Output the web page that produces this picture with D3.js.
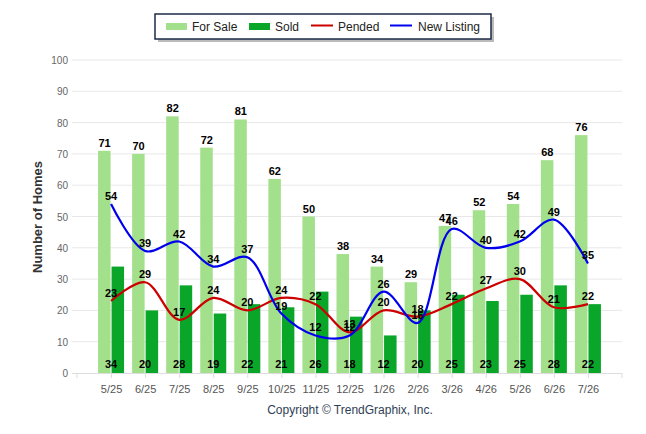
<!DOCTYPE html>
<html>
<head>
  <meta charset="utf-8">
  <script src="https://d3js.org/d3.v7.min.js"></script>
  <style type="text/css">
    body { margin: 0; background: #fff; }
    text { font-family: "Liberation Sans", Arial, sans-serif; }
    .tick-label { font-size: 11px; fill: #555; }
    .y-label { font-size: 10px; fill: #666; }
    .value { font-size: 11px; font-weight: bold; fill: #000; }
    .legend-text { font-size: 12px; fill: #222; }
  </style>
</head>
<body>
  <script type="text/javascript">
    // Chart data
    var months = ['5/25','6/25','7/25','8/25','9/25','10/25','11/25','12/25','1/26','2/26','3/26','4/26','5/26','6/26','7/26'];
    var forSale = [71,70,82,72,81,62,50,38,34,29,47,52,54,68,76];
    var sold = [34,20,28,19,22,21,26,18,12,20,25,23,25,28,22];
    var pended = [23,29,17,24,20,24,22,13,20,18,22,27,30,21,22];
    var newListing = [54,39,42,34,37,19,12,12,26,16,46,40,42,49,35];
    var yTicks = [0,10,20,30,40,50,60,70,80,90,100];

    var width = 646, height = 434;
    var colors = {forSale: '#a3e08b', sold: '#0aa62a', pended: '#cc0000', newListing: '#0000ee'};

    var svg = d3.select('body').append('svg')
        .attr('width', width)
        .attr('height', height);

    var x = d3.scalePoint().domain(months).range([77, 622]).padding(1);
    var y = d3.scaleLinear().domain([0, 100]).range([373, 60]);

    // Gridlines
    svg.append('g').selectAll('line')
        .data(yTicks.slice(1))
        .enter().append('line')
        .attr('x1', 72).attr('x2', 622)
        .attr('y1', function(d){ return y(d); })
        .attr('y2', function(d){ return y(d); })
        .attr('stroke', '#e8e8e8');

    // Y labels
    svg.append('g').selectAll('text')
        .data(yTicks)
        .enter().append('text')
        .attr('class', 'y-label')
        .attr('x', 68)
        .attr('y', function(d){ return y(d) + 4; })
        .attr('text-anchor', 'end')
        .text(function(d){ return d; });

    // Y title
    svg.append('text')
        .attr('transform', 'translate(42,217) rotate(-90)')
        .attr('text-anchor', 'middle')
        .style('font-size', '13px')
        .style('font-weight', 'bold')
        .style('fill', '#333')
        .text('Number of Homes');

    var barW = 12.5;

    // Bars
    svg.append('g').selectAll('rect')
        .data(forSale)
        .enter().append('rect')
        .attr('x', function(d, i){ return x(months[i]) - barW - 0.5; })
        .attr('y', function(d){ return y(d); })
        .attr('width', barW)
        .attr('height', function(d){ return y(0) - y(d); })
        .attr('fill', colors.forSale);

    svg.append('g').selectAll('rect')
        .data(sold)
        .enter().append('rect')
        .attr('x', function(d, i){ return x(months[i]) + 0.5; })
        .attr('y', function(d){ return y(d); })
        .attr('width', barW)
        .attr('height', function(d){ return y(0) - y(d); })
        .attr('fill', colors.sold);

    // X axis
    var xAxis = d3.axisBottom(x).tickSize(5).tickSizeOuter(0);
    var gx = svg.append('g')
        .attr('transform', 'translate(0,' + y(0) + ')')
        .call(xAxis);
    gx.select('.domain').attr('d', 'M72,0.5H622').attr('stroke', '#ddd');
    gx.selectAll('.tick line').attr('stroke', '#ddd');
    gx.selectAll('.tick text').attr('class', 'tick-label').attr('dy', '1.1em').attr('font-family', null).attr('font-size', null);
    [77, 622].forEach(function(px){
      gx.append('line').attr('x1', px).attr('x2', px).attr('y1', 0).attr('y2', 5).attr('stroke', '#ddd');
    });

    // Lines
    var line = d3.line()
        .x(function(d, i){ return x(months[i]); })
        .y(function(d){ return y(d); })
        .curve(d3.curveCatmullRom.alpha(0.5));

    svg.append('path').datum(pended)
        .attr('d', line).attr('fill', 'none')
        .attr('stroke', colors.pended).attr('stroke-width', 2.2);
    svg.append('path').datum(newListing)
        .attr('d', line).attr('fill', 'none')
        .attr('stroke', colors.newListing).attr('stroke-width', 2.2);

    // Value labels
    function labels(data, dx, fy) {
      svg.append('g').selectAll('text')
          .data(data)
          .enter().append('text')
          .attr('class', 'value')
          .attr('text-anchor', 'middle')
          .attr('x', function(d, i){ return x(months[i]) + dx; })
          .attr('y', fy)
          .text(function(d){ return d; });
    }
    labels(forSale, -6.5, function(d){ return y(d) - 4; });
    labels(sold, 0, function(){ return 368; });
    labels(pended, 0, function(d){ return y(d) - 4; });
    labels(newListing, 0, function(d){ return y(d) - 4; });

    // Legend
    var lg = svg.append('g');
    lg.append('rect').attr('x', 158).attr('y', 17).attr('width', 336).attr('height', 25).attr('fill', '#bbb');
    lg.append('rect').attr('x', 155).attr('y', 14).attr('width', 336).attr('height', 25)
        .attr('fill', '#fff').attr('stroke', '#1c2a48').attr('stroke-width', 1.5);
    lg.append('rect').attr('x', 166).attr('y', 23).attr('width', 21).attr('height', 7).attr('fill', colors.forSale);
    lg.append('text').attr('class', 'legend-text').attr('x', 192).attr('y', 30.5).text('For Sale');
    lg.append('rect').attr('x', 249).attr('y', 23).attr('width', 21).attr('height', 7).attr('fill', colors.sold);
    lg.append('text').attr('class', 'legend-text').attr('x', 275).attr('y', 30.5).text('Sold');
    lg.append('line').attr('x1', 311).attr('x2', 333).attr('y1', 25.5).attr('y2', 25.5).attr('stroke', colors.pended).attr('stroke-width', 2);
    lg.append('text').attr('class', 'legend-text').attr('x', 338).attr('y', 30.5).text('Pended');
    lg.append('line').attr('x1', 390).attr('x2', 412).attr('y1', 25.5).attr('y2', 25.5).attr('stroke', colors.newListing).attr('stroke-width', 2);
    lg.append('text').attr('class', 'legend-text').attr('x', 418).attr('y', 30.5).text('New Listing');

    // Copyright
    svg.append('text')
        .attr('x', 350).attr('y', 414)
        .attr('text-anchor', 'middle')
        .style('font-size', '12px')
        .style('fill', '#2f3e55')
        .text('Copyright \u00A9 TrendGraphix, Inc.');
  </script>
</body>
</html>
